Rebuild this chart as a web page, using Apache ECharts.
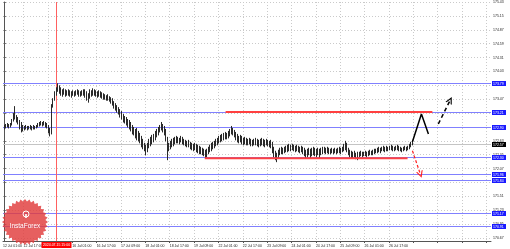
<!DOCTYPE html>
<html><head><meta charset="utf-8">
<script src="https://cdn.jsdelivr.net/npm/echarts@6/dist/echarts.min.js"></script>
<style>html,body{margin:0;padding:0;background:#fff}#c{width:510px;height:249px}</style>
</head><body><div id="c"></div>
<script>
// H1 bars: [high, low]
const bars = [
[172.95,172.87],[172.97,172.89],[172.99,172.91],[172.97,172.89],[172.99,172.91],[173.07,172.95],[173.19,173.03],[173.33,173.07],[173.15,173.01],[173.11,172.97],
[173.05,172.87],[173.01,172.81],[172.95,172.83],[172.93,172.85],[172.95,172.87],[172.93,172.85],[172.93,172.87],[172.95,172.87],[172.93,172.85],[172.95,172.87],
[172.93,172.87],[172.95,172.89],[172.99,172.91],[173.01,172.93],[173.03,172.95],[173.01,172.93],[173.03,172.95],[173.01,172.91],[172.99,172.89],[172.95,172.79],
[172.89,172.73],[173.37,172.77],[173.49,173.31],[173.63,173.45],[173.71,173.55],[173.79,173.63],[173.75,173.59],[173.71,173.55],[173.67,173.53],[173.69,173.57],
[173.67,173.53],[173.65,173.55],[173.67,173.55],[173.65,173.53],[173.63,173.51],[173.65,173.55],[173.63,173.53],[173.65,173.55],[173.67,173.57],[173.65,173.53],
[173.63,173.53],[173.65,173.55],[173.67,173.55],[173.67,173.51],[173.63,173.45],[173.59,173.41],[173.67,173.49],[173.65,173.53],[173.69,173.55],[173.67,173.55],
[173.65,173.53],[173.63,173.51],[173.65,173.53],[173.63,173.51],[173.61,173.49],[173.59,173.47],[173.57,173.47],[173.55,173.45],[173.57,173.45],[173.53,173.43],
[173.51,173.39],[173.49,173.35],[173.43,173.29],[173.39,173.25],[173.35,173.21],[173.31,173.17],[173.27,173.11],[173.23,173.07],[173.17,173.01],[173.13,172.99],
[173.11,172.95],[173.07,172.91],[173.05,172.87],[173.01,172.83],[172.95,172.77],[172.91,172.75],[172.87,172.69],[172.89,172.65],[172.83,172.63],[172.79,172.59],
[172.73,172.51],[172.67,172.47],[172.59,172.43],[172.55,172.35],[172.59,172.41],[172.67,172.49],[172.71,172.53],[172.75,172.57],[172.77,172.61],[172.83,172.65],
[172.87,172.71],[172.91,172.75],[172.95,172.81],[173.01,172.85],[172.97,172.81],[172.93,172.75],[172.87,172.63],[172.71,172.25],[172.59,172.43],[172.63,172.47],
[172.67,172.51],[172.69,172.53],[172.71,172.57],[172.73,172.59],[172.71,172.59],[172.69,172.57],[172.73,172.61],[172.71,172.57],[172.67,172.55],[172.65,172.53],
[172.63,172.51],[172.65,172.51],[172.61,172.47],[172.59,172.45],[172.57,172.43],[172.59,172.45],[172.57,172.41],[172.55,172.39],[172.53,172.37],[172.51,172.37],
[172.49,172.35],[172.47,172.33],[172.45,172.29],[172.47,172.31],[172.51,172.37],[172.55,172.41],[172.59,172.43],[172.61,172.47],[172.63,172.49],[172.67,172.53],
[172.69,172.55],[172.73,172.59],[172.75,172.61],[172.77,172.63],[172.79,172.65],[172.81,172.67],[172.79,172.67],[172.83,172.69],[172.87,172.73],[172.93,172.77],
[172.89,172.75],[172.85,172.71],[172.81,172.65],[172.77,172.61],[172.73,172.59],[172.75,172.61],[172.73,172.57],[172.69,172.55],[172.71,172.57],[172.69,172.55],
[172.67,172.55],[172.69,172.57],[172.67,172.53],[172.65,172.53],[172.67,172.55],[172.69,172.55],[172.67,172.53],[172.65,172.51],[172.67,172.53],[172.69,172.55],
[172.67,172.53],[172.65,172.51],[172.67,172.55],[172.65,172.53],[172.63,172.51],[172.65,172.49],[172.61,172.39],[172.51,172.31],[172.43,172.25],[172.39,172.21],
[172.45,172.29],[172.49,172.35],[172.51,172.37],[172.49,172.37],[172.51,172.39],[172.53,172.41],[172.55,172.41],[172.57,172.43],[172.55,172.43],[172.57,172.45],
[172.55,172.43],[172.53,172.41],[172.55,172.43],[172.53,172.41],[172.51,172.39],[172.53,172.41],[172.51,172.37],[172.49,172.33],[172.45,172.29],[172.47,172.31],
[172.49,172.35],[172.47,172.29],[172.49,172.33],[172.51,172.35],[172.49,172.33],[172.47,172.31],[172.49,172.35],[172.47,172.29],[172.49,172.35],[172.51,172.37],
[172.51,172.39],[172.49,172.37],[172.51,172.39],[172.49,172.37],[172.47,172.37],[172.49,172.39],[172.47,172.37],[172.49,172.39],[172.47,172.37],[172.49,172.39],
[172.51,172.39],[172.49,172.37],[172.51,172.41],[172.57,172.43],[172.63,172.45],[172.59,172.41],[172.49,172.35],[172.45,172.31],[172.43,172.29],[172.41,172.29],
[172.43,172.31],[172.39,172.27],[172.41,172.25],[172.41,172.31],[172.43,172.33],[172.41,172.31],[172.41,172.33],[172.43,172.33],[172.41,172.31],[172.43,172.33],
[172.45,172.35],[172.43,172.35],[172.45,172.35],[172.47,172.37],[172.47,172.39],[172.49,172.39],[172.51,172.41],[172.49,172.39],[172.51,172.43],[172.53,172.43],
[172.51,172.41],[172.53,172.43],[172.51,172.43],[172.53,172.45],[172.55,172.45],[172.53,172.43],[172.51,172.43],[172.53,172.45],[172.55,172.45],[172.53,172.43],
[172.51,172.43],[172.49,172.41],[172.51,172.43],[172.53,172.45],[172.51,172.43],[172.53,172.45],[172.57,172.47],[172.61,172.51],[172.65,172.55]
];
const timeTickBars = [-0.5,13,29,45,61,77,93,109,125,141,157,173,189,205,221,237,253];
const timeTickLabels = ['12 Jul 01:00','12 Jul 17:00','15 Jul 09:00','16 Jul 01:00','16 Jul 17:00','17 Jul 09:00','18 Jul 01:00','18 Jul 17:00','19 Jul 09:00','22 Jul 01:00','22 Jul 17:00','23 Jul 09:00','24 Jul 01:00','24 Jul 17:00','25 Jul 09:00','26 Jul 01:00','26 Jul 17:00'];
const gridBars = [13,29,45,61,77,93,109,125,141,157,173,189,205,221,237,253,269,285,301,317];
const priceTicks = [170.67,170.95,171.23,171.51,171.79,172.07,172.35,172.63,172.91,173.19,173.47,173.75,174.03,174.31,174.59,174.87,175.15,175.43];
const levelLines = [173.79,173.21,172.90,172.30,171.96,171.84,171.17,170.91];
const currentPrice = 172.57;
const resistance = [145.7, 281.5, 173.21];
const support = [132.0, 265.2, 172.28];
const markerBar = 34.3, markerLabel = '2024.07.15 15:00';
const bullPath = [[268.4,172.61],[274.3,173.17],[278.9,172.77]];
const bullArrow = [[285.4,172.97],[293.2,173.45]];
const bearArrow = [[268.4,172.43],[273.7,171.95]];

const chevron = 'path://M5,0 L10,10 L8.2,10 L5,3.6 L1.8,10 L0,10 Z';
const FONT = 'Liberation Sans';
const TINY = '3.5px "' + FONT + '"';
const chart = echarts.init(document.getElementById('c'), null, {renderer:'canvas'});

// InstaForex badge (decoration)
const pts = [];
const teeth = 32;
for (let k = 0; k < teeth * 2; k++) {
  const r = k % 2 ? 20.5 : 23;
  const a = k * Math.PI / teeth;
  pts.push([25 + r * Math.cos(a), 222 + r * Math.sin(a)]);
}

function levelItem(lineColor, boxColor) {
  return (params, api) => {
    const cs = params.coordSys;
    const v = api.value(1);
    const y = Math.round(api.coord([0, v])[1]) + 0.5;
    const txt = v.toFixed(2);
    return {type: 'group', children: [
      {type: 'line', shape: {x1: cs.x, y1: y, x2: cs.x + cs.width, y2: y}, style: {stroke: lineColor, lineWidth: 1}},
      {type: 'rect', shape: {x: cs.x + cs.width + 1, y: y - 2.5, width: 14, height: 5}, style: {fill: boxColor}},
      {type: 'text', x: cs.x + cs.width + 2, y: y + 0.2, style: {text: txt, fill: '#fff', font: TINY, align: 'left', verticalAlign: 'middle'}}
    ]};
  };
}

chart.setOption({
  animation: false,
  backgroundColor: '#fff',
  grid: {left: 0, right: 19, top: 0, bottom: 8, containLabel: false},
  xAxis: {
    type: 'value', min: -0.5, max: 320,
    axisLine: {show: true, onZero: false, lineStyle: {color: '#555', width: 1}},
    axisTick: {show: true, length: 2, customValues: gridBars, lineStyle: {color: '#555'}},
    axisLabel: {customValues: timeTickBars, fontSize: 3.5, fontFamily: FONT, color: '#222', margin: 3, align: 'left',
      formatter: v => timeTickLabels[timeTickBars.indexOf(v)] || ''},
    splitLine: {show: true, lineStyle: {color: '#cacaca', type: [1, 2], width: 1}}
  },
  yAxis: {
    type: 'value', position: 'right', min: 170.61, max: 175.43,
    axisLine: {show: true, lineStyle: {color: '#555', width: 1}},
    axisTick: {show: true, length: 2, customValues: priceTicks, lineStyle: {color: '#555'}},
    axisLabel: {customValues: priceTicks, fontSize: 3.5, fontFamily: FONT, color: '#222', margin: 2,
      formatter: v => v.toFixed(2)},
    splitLine: {show: true, lineStyle: {color: '#cacaca', type: [1, 2], width: 1}}
  },
  graphic: [
    {type: 'polygon', shape: {points: pts}, style: {fill: 'rgba(224,60,60,0.82)'}, z: 100},
    {type: 'circle', shape: {cx: 26, cy: 214, r: 3}, style: {fill: 'none', stroke: '#fff', lineWidth: 1}, z: 101},
    {type: 'rect', shape: {x: 25.2, y: 214, width: 1.6, height: 4}, style: {fill: '#fff'}, z: 101},
    {type: 'text', x: 25, y: 223, style: {text: 'InstaForex', fill: '#fff', font: '6.5px "' + FONT + '"', textAlign: 'center'}, z: 101}
  ],
  series: [
    {
      type: 'custom', name: 'current', z: 1, silent: true,
      data: [[0, currentPrice]], encode: {x: 0, y: 1},
      renderItem: levelItem('#c4c4c4', '#000')
    },
    {
      type: 'custom', name: 'levels', z: 2, silent: true,
      data: levelLines.map(v => [0, v]), encode: {x: 0, y: 1},
      renderItem: levelItem('#8080ff', '#1a1aff')
    },
    {
      type: 'custom', name: 'marker', z: 2, silent: true,
      data: [[markerBar, 0]], encode: {x: 0},
      renderItem: (params, api) => {
        const cs = params.coordSys;
        const x = Math.round(api.coord([api.value(0), 172])[0]) + 0.5;
        return {type: 'group', children: [
          {type: 'line', shape: {x1: x, y1: cs.y, x2: x, y2: cs.y + cs.height}, style: {stroke: '#ff6060', lineWidth: 1}},
          {type: 'rect', shape: {x: x - 15, y: cs.y + cs.height + 1, width: 30, height: 6}, style: {fill: '#ff0000'}},
          {type: 'text', x: x, y: cs.y + cs.height + 4.2, style: {text: markerLabel, fill: '#fff', font: TINY, align: 'center', verticalAlign: 'middle'}}
        ]};
      }
    },
    {
      type: 'custom', name: 'price', z: 3,
      data: bars.map((b, i) => [i, b[0], b[1]]),
      encode: {x: 0, y: [1, 2]},
      renderItem: (params, api) => {
        const x = api.value(0);
        const p1 = api.coord([x, api.value(1)]);
        const p2 = api.coord([x, api.value(2)]);
        const px = Math.round(p1[0]) + 0.5;
        return {type: 'line', shape: {x1: px, y1: p1[1], x2: px, y2: p2[1] + 0.5}, style: {stroke: '#2a2a2a', lineWidth: 1}};
      }
    },
    {
      type: 'custom', name: 'zones', z: 5, silent: true,
      data: [resistance, support],
      encode: {x: [0, 1], y: 2},
      renderItem: (params, api) => {
        const a = api.coord([api.value(0), api.value(2)]);
        const b = api.coord([api.value(1), api.value(2)]);
        return {type: 'line', shape: {x1: a[0], y1: a[1], x2: b[0], y2: b[1]}, style: {stroke: '#ff4040', lineWidth: 2}};
      }
    },
    {
      type: 'line', name: 'bull', data: bullPath, showSymbol: false, z: 12, color: '#000',
      lineStyle: {color: '#000', width: 1.5},
      markLine: {
        silent: true, symbol: ['none', chevron], symbolSize: [7, 7], animation: false, label: {show: false},
        lineStyle: {color: '#000', width: 1.5, type: [4, 3]},
        data: [[{coord: bullArrow[0]}, {coord: bullArrow[1]}]]
      }
    },
    {
      type: 'line', name: 'bear', data: [], z: 12, color: '#ff2020',
      markLine: {
        silent: true, symbol: ['none', chevron], symbolSize: [7, 7], animation: false, label: {show: false},
        lineStyle: {color: '#ff2020', width: 1.2, type: [3, 2]},
        data: [[{coord: bearArrow[0]}, {coord: bearArrow[1]}]]
      }
    }
  ]
});
</script></body></html>
